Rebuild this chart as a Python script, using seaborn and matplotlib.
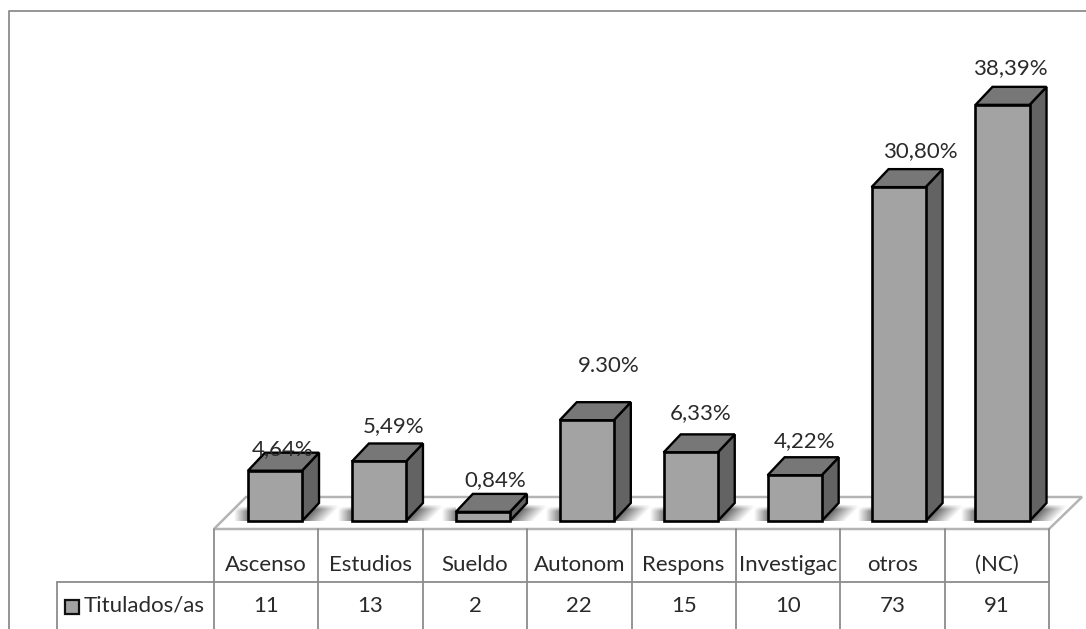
import numpy as np
import pandas as pd
import matplotlib
matplotlib.use('Agg')
import matplotlib.pyplot as plt
import seaborn as sns

categorias = ['Ascenso', 'Estudios', 'Sueldo', 'Autonom', 'Respons', 'Investigac', 'otros', '(NC)']
titulados = [11, 13, 2, 22, 15, 10, 73, 91]
porcentajes = [4.64, 5.49, 0.84, 9.30, 6.33, 4.22, 30.80, 38.39]
etiquetas = ['4,64%', '5,49%', '0,84%', '9.30%', '6,33%', '4,22%', '30,80%', '38,39%']
serie = 'Titulados/as'

W, H = 1086, 629
sns.set_theme(style='white')
plt.rcParams['font.family'] = ['Lato', 'DejaVu Sans']
tam = 16
tinta = '#2a2a2a'

df = pd.DataFrame({'cat': categorias, 'pct': porcentajes})

fig = plt.figure(figsize=(W / 100, H / 100), dpi=100, facecolor='white')

# fondo en pixeles: marco, suelo y tabla
bg = fig.add_axes([0, 0, 1, 1], zorder=0)
bg.set_xlim(0, W)
bg.set_ylim(H, 0)
bg.axis('off')
gris = '#8c8c8c'
bg.plot([9, 9, W], [H, 11, 11], color=gris, lw=1.3)

x0, x1 = 214, 1049
fondo = 497
frente = 529
bg.fill([x0, x0 + 32, x1 + 33, x1], [frente, fondo, fondo, frente], facecolor='white', edgecolor='#b4b4b4', lw=1.8)

ancho = (x1 - x0) / len(categorias)
bordes = [x0 + ancho * i for i in range(len(categorias) + 1)]
for b in bordes:
    bg.plot([b, b], [frente, H], color=gris, lw=1.3)
bg.plot([57, x1], [582, 582], color=gris, lw=1.3)
bg.plot([57, 57], [582, H], color=gris, lw=1.3)

for i, c in enumerate(categorias):
    xc = bordes[i] + ancho / 2
    bg.text(xc, 565, c, ha='center', va='center', fontsize=tam, color=tinta)
    bg.text(xc, 606, str(titulados[i]), ha='center', va='center', fontsize=tam, color=tinta)
bg.text(84, 606, serie, ha='left', va='center', fontsize=tam, color=tinta)
bg.fill([65, 79, 79, 65], [600, 600, 614, 614], facecolor='#a3a3a3', edgecolor='#111111', lw=1.6)

# barras en porcentaje, 10.84 px por punto
px_cat = 103.93
px_pct = 10.84
base = 521
ax = fig.add_axes([0, 0, 1, 1], zorder=1)
ax.patch.set_alpha(0)
sns.barplot(data=df, x='cat', y='pct', order=categorias, color='#a3a3a3', saturation=1,
            width=0.52, edgecolor='black', linewidth=1.9, ax=ax)
ax.set_xlim(-275 / px_cat, (W - 275) / px_cat)
ax.set_ylim(-(H - base) / px_pct, base / px_pct)
ax.axis('off')

dx = 17 / px_cat
dy = 18 / px_pct
desp_x = [8, 15, 12, 22, 10, 10, 22, 8]
desp_y = [4, 17, 14, 36, 21, 16, 18, 19]


def sombra(xa, xb, ya, yb, borde, fuerza, largo):
    # degradado de la sombra sobre el suelo, borde(y) da la x mas oscura
    xs, ys = np.meshgrid(np.linspace(xa, xb, 60), np.linspace(ya, yb, 20))
    d = np.abs(xs - borde(ys))
    rgba = np.zeros(xs.shape + (4,))
    vert = np.clip((ys - ya) / 5, 0, 1)
    rgba[..., 3] = fuerza * np.clip(1 - d / largo, 0, 1) * vert
    bg.imshow(rgba, extent=(xa, xb, yb, ya), origin='upper', aspect='auto', zorder=2, interpolation='bilinear')


for i, bar in enumerate(ax.patches):
    l = bar.get_x()
    r = l + bar.get_width()
    t = bar.get_height()
    ax.fill([r, r + dx, r + dx, r], [0, dy, t + dy, t], facecolor='#636363', edgecolor='black', lw=1.7, zorder=3)
    ax.fill([l, l + dx, r + dx, r], [t, t + dy, t + dy, t], facecolor='#777777', edgecolor='black', lw=1.7, zorder=3)
    bar.set_zorder(4)
    rx = 275 + px_cat * r
    lx = 275 + px_cat * l
    sombra(rx, rx + 40, base - 17, base, lambda y: rx + 17 * (base - y) / 18, 0.6, 24)
    sombra(lx - 16, lx, base - 15, base, lambda y: lx + 0 * y, 0.5, 14)
    ax.text(i + desp_x[i] / px_cat, t + dy + desp_y[i] / px_pct, etiquetas[i], ha='center', va='center',
            fontsize=tam, color=tinta, zorder=5)
bg.set_xlim(0, W)
bg.set_ylim(H, 0)

fig.savefig('out.png', dpi=100)
